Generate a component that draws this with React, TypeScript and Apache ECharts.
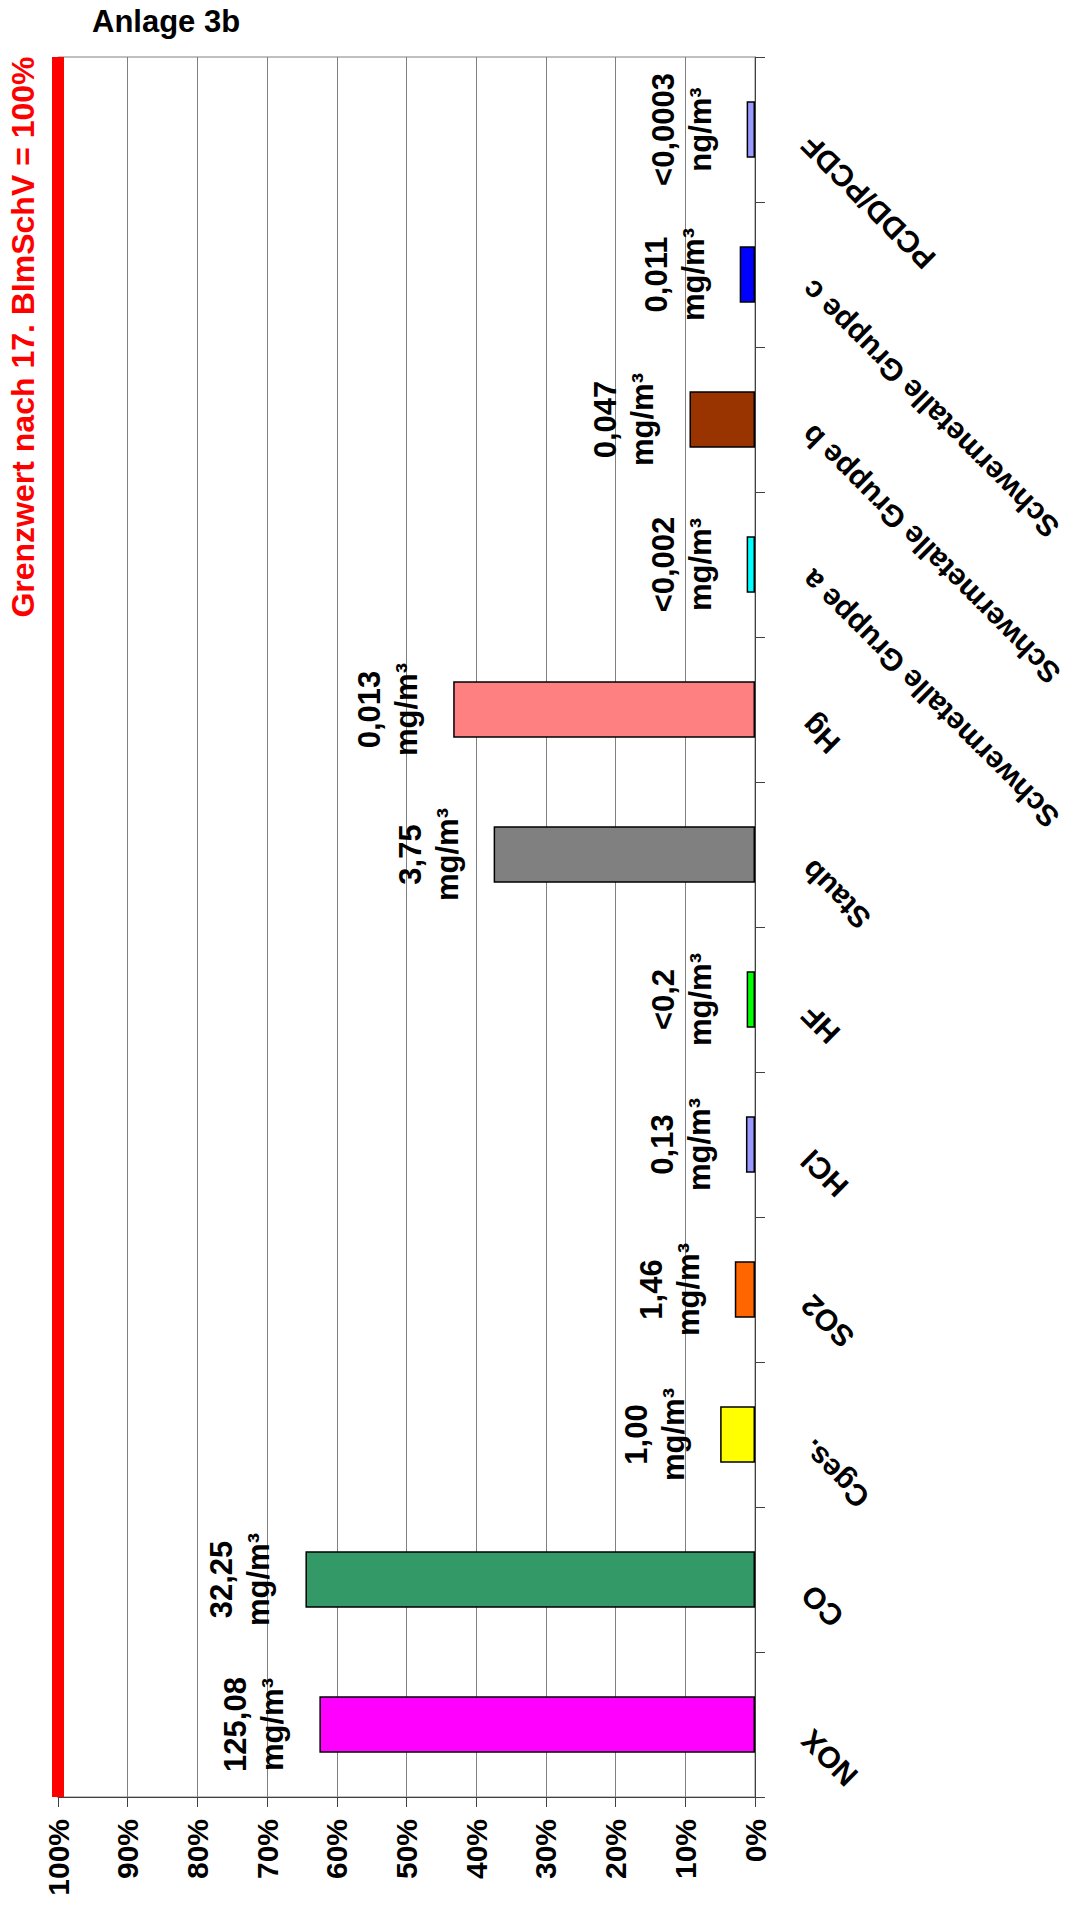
import React, { useEffect, useRef } from "react";
import * as echarts from "echarts";

const categories = [
  "NOX",
  "CO",
  "Cges.",
  "SO2",
  "HCl",
  "HF",
  "Staub",
  "Hg",
  "Schwermetalle Gruppe a",
  "Schwermetalle Gruppe b",
  "Schwermetalle Gruppe c",
  "PCDD/PCDF",
];

// Share of the legal limit (17. BImSchV = 100 %)
const percentOfLimit = [62.5, 64.5, 5.0, 2.9, 1.3, 1.2, 37.5, 43.3, 1.2, 9.4, 2.2, 1.2];

const measuredValues = [
  "125,08",
  "32,25",
  "1,00",
  "1,46",
  "0,13",
  "<0,2",
  "3,75",
  "0,013",
  "<0,002",
  "0,047",
  "0,011",
  "<0,0003",
];

const units = [
  "mg/m³",
  "mg/m³",
  "mg/m³",
  "mg/m³",
  "mg/m³",
  "mg/m³",
  "mg/m³",
  "mg/m³",
  "mg/m³",
  "mg/m³",
  "mg/m³",
  "ng/m³",
];

const barColors = [
  "#FF00FF",
  "#339966",
  "#FFFF00",
  "#FF6600",
  "#9999FF",
  "#00FF00",
  "#808080",
  "#FF8080",
  "#00FFFF",
  "#993300",
  "#0000FF",
  "#9999FF",
];

const limitValue = 100;
const titleText = "Anlage 3b";
const limitText = "Grenzwert nach 17. BImSchV = 100%";

const FONT = "'Liberation Sans', Arial, Helvetica, sans-serif";

export default function App() {
  const ref = useRef<HTMLDivElement>(null);

  useEffect(() => {
    document.body.style.margin = "0";
    if (!ref.current) return;
    const chart = echarts.init(ref.current, undefined, { renderer: "svg" });
    chart.setOption({
      animation: false,
      backgroundColor: "#ffffff",
      textStyle: { fontFamily: FONT },
      grid: {
        left: 58,
        right: 322,
        top: 57,
        bottom: 115,
        show: true,
        borderColor: "#808080",
        borderWidth: 1,
        backgroundColor: "transparent",
      },
      graphic: [
        {
          type: "text",
          left: 92,
          top: 6,
          style: {
            text: titleText,
            font: `bold 31px ${FONT}`,
            fill: "#000000",
          },
        },
        {
          type: "text",
          x: 23,
          y: 337,
          rotation: Math.PI / 2,
          style: {
            text: limitText,
            font: `bold 32px ${FONT}`,
            fill: "#FF0000",
            align: "center",
            verticalAlign: "middle",
          },
        },
      ],
      xAxis: {
        type: "value",
        min: 0,
        max: 100,
        interval: 10,
        inverse: true,
        position: "bottom",
        axisLine: { show: true, onZero: false, lineStyle: { color: "#404040", width: 1 } },
        axisTick: { show: true, length: 10, lineStyle: { color: "#404040", width: 1 } },
        splitLine: { show: true, lineStyle: { color: "#808080", width: 1 } },
        axisLabel: {
          formatter: "{value}%",
          rotate: 90,
          margin: 22,
          fontSize: 30,
          fontWeight: "bold",
          color: "#000000",
          fontFamily: FONT,
        },
      },
      yAxis: {
        type: "category",
        data: categories,
        position: "right",
        axisLine: { show: true, onZero: false, lineStyle: { color: "#404040", width: 1 } },
        axisTick: { show: true, length: 10, lineStyle: { color: "#404040", width: 1 } },
        splitLine: { show: false },
        axisLabel: {
          rotate: 135,
          margin: 62,
          align: "right",
          verticalAlign: "bottom",
          fontSize: 30,
          fontWeight: "bold",
          color: "#000000",
          fontFamily: FONT,
        },
      },
      series: [
        {
          type: "bar",
          barWidth: "39%",
          data: percentOfLimit.map((v, i) => ({
            value: v,
            itemStyle: { color: barColors[i] },
          })),
          itemStyle: { borderColor: "#000000", borderWidth: 1.5 },
          label: {
            show: true,
            position: "left",
            distance: 28,
            rotate: 90,
            align: "center",
            verticalAlign: "bottom",
            fontSize: 31,
            lineHeight: 37,
            fontWeight: "bold",
            color: "#000000",
            fontFamily: FONT,
            formatter: (p: any) => `${measuredValues[p.dataIndex]}\n${units[p.dataIndex]}`,
          },
          markLine: {
            silent: true,
            symbol: ["none", "none"],
            label: { show: false },
            lineStyle: { color: "#FF0000", width: 12, type: "solid" },
            data: [{ xAxis: limitValue }],
          },
        },
      ],
    });
    return () => chart.dispose();
  }, []);

  return <div ref={ref} style={{ width: 1077, height: 1912, overflow: "hidden" }} />;
}
